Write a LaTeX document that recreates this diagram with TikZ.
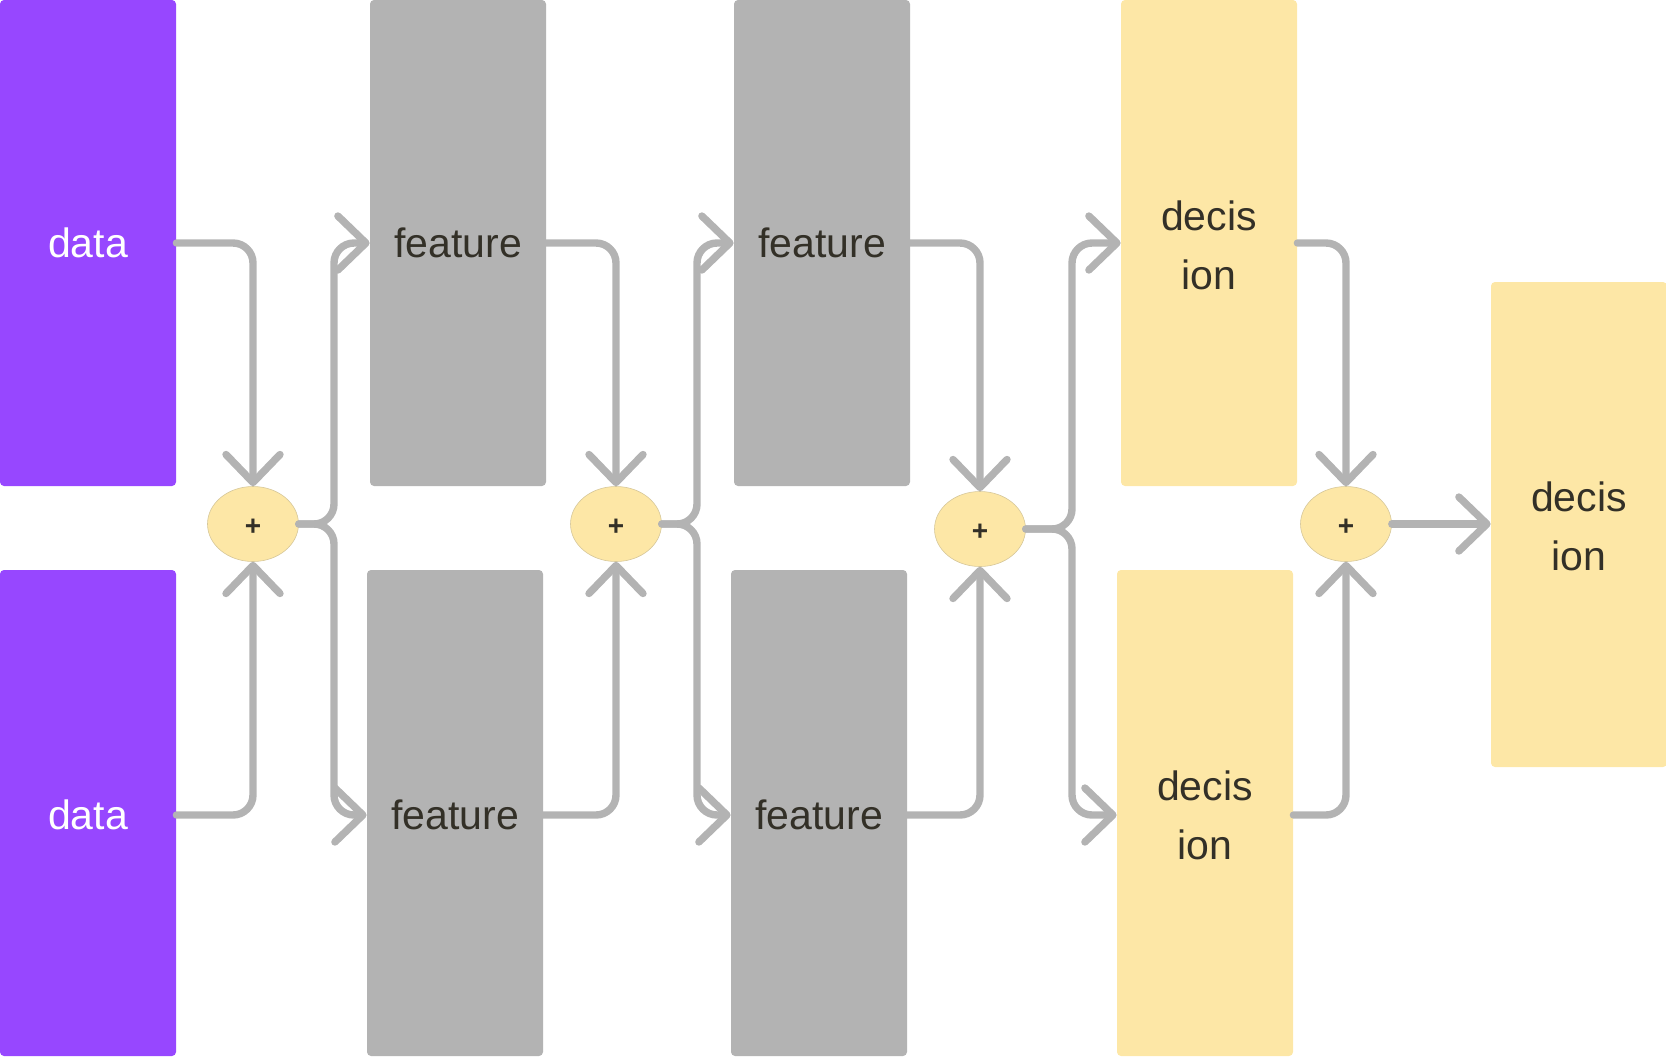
\documentclass[tikz,border=0pt]{standalone}
\usepackage{fontspec}
\setmainfont{Liberation Sans}
\usetikzlibrary{arrows.meta,shapes.geometric}
\definecolor{purp}{HTML}{9747FF}
\definecolor{greybox}{HTML}{B3B3B3}
\definecolor{yel}{HTML}{FDE7A6}
\definecolor{ink}{HTML}{333027}
\definecolor{lineg}{HTML}{B3B3B3}
\definecolor{ellborder}{HTML}{D6C79A}
\begin{document}
\begin{tikzpicture}[x=0.5pt,y=-0.5pt,
  box/.style={rectangle, rounded corners=2pt, minimum width=88pt, minimum height=243pt, inner sep=0pt, draw=none},
  databox/.style={box, fill=purp},
  featbox/.style={box, fill=greybox},
  decbox/.style={box, fill=yel},
  lbl/.style={inner sep=0pt, text=ink, align=center, font=\fontsize{20.5}{29.5}\selectfont},
  sumnode/.style={ellipse, fill=yel, draw=ellborder, line width=0.3pt, minimum width=45.5pt, minimum height=37.5pt, inner sep=0pt, text=ink, font=\fontsize{14}{14}\selectfont},
  plus/.style={inner sep=0pt, text=ink, font=\fontsize{14}{14}\selectfont\bfseries},
  conn/.style={draw=lineg, line width=3.7pt, rounded corners=10pt, line cap=round, line join=round, -{Straight Barb[length=14pt,width=27pt,round]}}]
\useasboundingbox (0,0) rectangle (1666,1056);

% boxes
\node[databox] (dataT) at (88,243) {};
\node[databox] (dataB) at (88,813) {};
\node[featbox] (f1T) at (458,243) {};
\node[featbox] (f1B) at (455,813) {};
\node[featbox] (f2T) at (822,243) {};
\node[featbox] (f2B) at (819,813) {};
\node[decbox] (dT) at (1209,243) {};
\node[decbox] (dB) at (1205,813) {};
\node[decbox, minimum height=242.5pt] (dF) at (1579,524.5) {};

% labels
\node[lbl, text=white] (tdataT) at (88,243) {data};
\node[lbl, text=white] (tdataB) at (88,815) {data};
\node[lbl] (tf1T) at (458,243) {feature};
\node[lbl] (tf1B) at (455,815) {feature};
\node[lbl] (tf2T) at (822,243) {feature};
\node[lbl] (tf2B) at (819,815) {feature};
\node[lbl] (tdT) at (1209,245) {decis\\ion};
\node[lbl] (tdB) at (1205,815) {decis\\ion};
\node[lbl] (tdF) at (1579,526) {decis\\ion};

% sum nodes
\node[sumnode] (E1) at (253,524) {};
\node[sumnode] (E2) at (616,524) {};
\node[sumnode] (E3) at (980,529) {};
\node[sumnode] (E4) at (1346,524) {};
\node[plus] (p1) at (253,527) {+};
\node[plus] (p2) at (616,527) {+};
\node[plus] (p3) at (980,532) {+};
\node[plus] (p4) at (1346,527) {+};

% branch points
\coordinate (b1) at (334,524);
\coordinate (b2) at (697,524);
\coordinate (b3) at (1072,529);

% into sums
\draw[conn] (dataT.east |- tdataT) -- (E1 |- tdataT) -- (E1.north);
\draw[conn] (dataB.east |- tdataB) -- (E1 |- tdataB) -- (E1.south);
\draw[conn] (f1T.east |- tf1T) -- (E2 |- tf1T) -- (E2.north);
\draw[conn] (f1B.east |- tf1B) -- (E2 |- tf1B) -- (E2.south);
\draw[conn] (f2T.east |- tf2T) -- (E3 |- tf2T) -- (E3.north);
\draw[conn] (f2B.east |- tf2B) -- (E3 |- tf2B) -- (E3.south);
\draw[conn] (dT.east |- tf2T) -- (E4 |- tf2T) -- (E4.north);
\draw[conn] (dB.east |- tf2B) -- (E4 |- tf2B) -- (E4.south);

% out of sums (branches)
\draw[conn] (E1.east) -- (b1) -- (b1 |- tf1T) -- (f1T.west |- tf1T);
\draw[conn] (E1.east) -- (b1) -- (b1 |- tf1B) -- (f1B.west |- tf1B);
\draw[conn] (E2.east) -- (b2) -- (b2 |- tf2T) -- (f2T.west |- tf2T);
\draw[conn] (E2.east) -- (b2) -- (b2 |- tf2B) -- (f2B.west |- tf2B);
\draw[conn] (E3.east) -- (b3) -- (b3 |- tf1T) -- (dT.west |- tf1T);
\draw[conn] (E3.east) -- (b3) -- (b3 |- tf1B) -- (dB.west |- tf1B);
\draw[conn] (E4.east) -- (dF.west |- E4);
\end{tikzpicture}
\end{document}
